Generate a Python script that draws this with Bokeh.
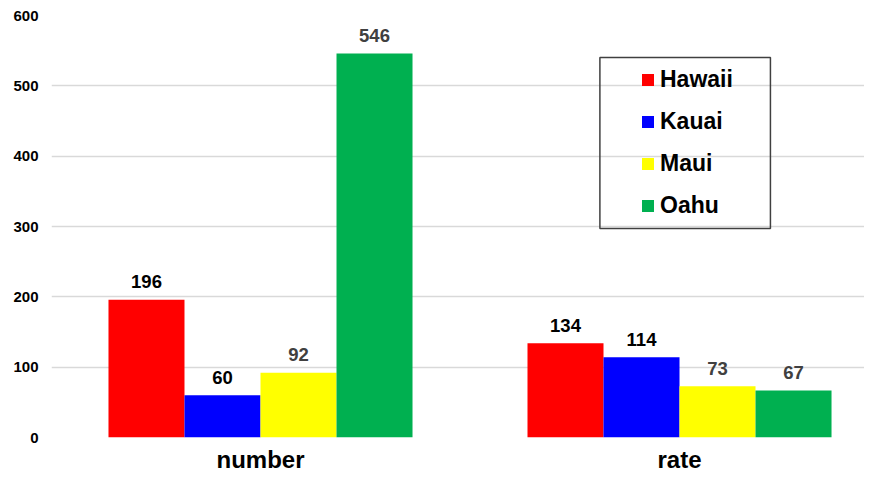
from bokeh.plotting import figure
from bokeh.models import (ColumnDataSource, Range1d, FixedTicker, CustomJSTickFormatter,
                          Legend, LegendItem, BoxAnnotation)
from bokeh.transform import dodge
from bokeh.core.properties import value
from bokeh.embed import file_html
from bokeh.resources import INLINE

# ---- data ----
categories = ["number", "rate"]
series_names = ["Hawaii", "Kauai", "Maui", "Oahu"]
hawaii = [196, 134]
kauai = [60, 114]
maui = [92, 73]
oahu = [546, 67]
y_ticks = [0, 100, 200, 300, 400, 500, 600]

# ---- style ----
colors = ["#FF0000", "#0000FF", "#FFFF00", "#00B050"]
label_colors = ["#000000", "#000000", "#404040", "#404040"]
FONT = "Liberation Sans"
bar_w = 0.1814

values = [hawaii, kauai, maui, oahu]
data = {"x": list(range(len(categories)))}
for name, vals in zip(series_names, values):
    data[name] = vals
    data[name + "_lbl"] = [str(v) for v in vals]
source = ColumnDataSource(data)

p = figure(width=864, height=475, output_backend="svg", toolbar_location=None,
           x_range=Range1d(-0.4988, 1.4415), y_range=Range1d(0, 600),
           min_border_left=51, min_border_right=0, min_border_top=15, min_border_bottom=30)
p.outline_line_color = None
p.background_fill_color = "white"

items = []
for i, (name, c, lc) in enumerate(zip(series_names, colors, label_colors)):
    off = (i - (len(series_names) - 1) / 2) * bar_w
    r = p.vbar(x=dodge("x", off, range=p.x_range), top=name, width=bar_w, source=source,
               fill_color=c, line_color=None)
    p.text(x=dodge("x", off, range=p.x_range), y=name, text=name + "_lbl", source=source,
           text_align="center", text_baseline="alphabetic", y_offset=-18,
           text_font=value(FONT), text_font_style="bold", text_font_size="18.5px",
           text_color=lc)
    items.append(LegendItem(label=name, renderers=[r]))

# y axis
p.yaxis.ticker = FixedTicker(ticks=y_ticks)
p.yaxis.axis_line_color = None
p.yaxis.major_tick_line_color = None
p.yaxis.minor_tick_line_color = None
p.yaxis.major_label_text_font = FONT
p.yaxis.major_label_text_font_style = "bold"
p.yaxis.major_label_text_font_size = "15px"
p.yaxis.major_label_text_color = "#000000"
p.yaxis.major_label_standoff = 7

p.ygrid.ticker = FixedTicker(ticks=y_ticks)
p.ygrid.grid_line_color = "#d9d9d9"
p.ygrid.grid_line_width = 1.5
p.xgrid.visible = False

# x axis
p.xaxis.ticker = FixedTicker(ticks=data["x"])
p.xaxis.formatter = CustomJSTickFormatter(args=dict(labels=categories),
                                          code="return labels[Math.round(tick)];")
p.xaxis.axis_line_color = None
p.xaxis.major_tick_line_color = None
p.xaxis.minor_tick_line_color = None
p.xaxis.major_label_text_font = FONT
p.xaxis.major_label_text_font_style = "bold"
p.xaxis.major_label_text_font_size = "24px"
p.xaxis.major_label_text_color = "#000000"
p.xaxis.major_label_standoff = 2

# legend
legend = Legend(items=items, location=(589, 218), orientation="vertical",
                glyph_width=15, glyph_height=15, label_standoff=5,
                label_height=28, spacing=14, padding=0, margin=0,
                border_line_color=None, background_fill_alpha=0,
                label_text_font=FONT, label_text_font_style="bold",
                label_text_font_size="23px", label_text_color="#000000")
p.add_layout(legend)

frame_box = BoxAnnotation(left=0.810, right=1.217, top=540.3, bottom=297.2,
                          fill_color=None, fill_alpha=0,
                          line_color="#404040", line_alpha=1.0, line_width=1.5)
p.add_layout(frame_box)

open("out.html", "w").write(file_html(p, INLINE))
